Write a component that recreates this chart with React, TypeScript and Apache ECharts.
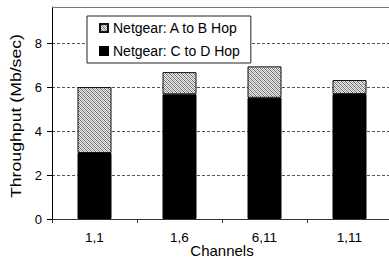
import React, { useEffect, useRef } from "react";
import * as echarts from "echarts";

const categories = ["1,1", "1,6", "6,11", "1,11"];
const cdHop = [3.0, 5.67, 5.51, 5.68];
const abHop = [3.0, 1.01, 1.43, 0.64];
const seriesNames = ["Netgear: A to B Hop", "Netgear: C to D Hop"];
const yTitle = "Throughput (Mb/sec)";
const xTitle = "Channels";

function makePattern(): HTMLCanvasElement {
  const c = document.createElement("canvas");
  c.width = 4;
  c.height = 4;
  const ctx = c.getContext("2d")!;
  ctx.fillStyle = "#ececec";
  ctx.fillRect(0, 0, 4, 4);
  ctx.fillStyle = "#666666";
  for (let i = 0; i < 4; i++) {
    ctx.fillRect(i, i, 1, 1);
  }
  ctx.fillStyle = "#aaaaaa";
  for (let i = 0; i < 4; i++) {
    ctx.fillRect((i + 2) % 4, i, 1, 1);
  }
  return c;
}

export default function App() {
  const ref = useRef<HTMLDivElement>(null);
  useEffect(() => {
    const chart = echarts.init(ref.current!, null, { renderer: "svg" });
    const font = "Liberation Sans, Arial, sans-serif";
    const pattern = makePattern();
    chart.setOption({
      animation: false,
      textStyle: { fontFamily: font },
      grid: { left: 52, right: -3, top: 7, bottom: 42, outerBoundsMode: "none", containLabel: false },
      legend: {
        data: seriesNames,
        orient: "vertical",
        left: 87,
        top: 16,
        padding: [5, 11, 5, 12],
        itemGap: 9,
        itemWidth: 8,
        itemHeight: 8,
        icon: "rect",
        backgroundColor: "#fff",
        borderColor: "#222",
        borderWidth: 1,
        textStyle: { fontFamily: font, fontSize: 14, color: "#000" },
      },
      xAxis: {
        type: "category",
        data: categories,
        name: xTitle,
        nameLocation: "middle",
        nameGap: 24,
        nameMoveOverlap: false,
        nameTextStyle: { fontFamily: font, fontSize: 15, color: "#000" },
        axisLine: { lineStyle: { color: "#333", width: 1 } },
        axisTick: { show: true, length: 4, inside: false, lineStyle: { color: "#333" } },
        axisLabel: { fontFamily: font, fontSize: 13.5, color: "#000", margin: 11 },
        splitLine: { show: false },
        splitArea: { show: false },
      },
      yAxis: {
        type: "value",
        min: 0,
        max: 9.64,
        interval: 2,
        axisLine: { show: true, lineStyle: { color: "#000", width: 1 } },
        axisTick: { show: true, length: 5, lineStyle: { color: "#000" } },
        axisLabel: {
          fontFamily: font,
          fontSize: 13,
          color: "#000",
          margin: 10,
          showMaxLabel: false,
        },
        splitLine: {
          show: true,
          lineStyle: { color: "#555", type: [3, 2], width: 1 },
        },
      },
      graphic: [
        {
          type: "line",
          shape: { x1: 52, y1: 7.5, x2: 389, y2: 7.5 },
          style: { stroke: "#777", lineWidth: 1 },
          z: 10,
        },
        {
          type: "text",
          x: 16,
          y: 116,
          rotation: Math.PI / 2,
          scaleX: 1.22,
          style: {
            text: yTitle,
            fontFamily: font,
            fontSize: 14.5,
            fill: "#000",
            align: "center",
            verticalAlign: "middle",
          },
        },
      ],
      series: [
        {
          name: seriesNames[1],
          type: "bar",
          stack: "t",
          data: cdHop,
          barWidth: 34,
          itemStyle: { color: "#000", borderColor: "#000", borderWidth: 1 },
        },
        {
          name: seriesNames[0],
          type: "bar",
          stack: "t",
          data: abHop,
          barWidth: 34,
          itemStyle: {
            color: { image: pattern, repeat: "repeat" },
            borderColor: "#111",
            borderWidth: 1,
          },
        },
      ],
    });
    return () => chart.dispose();
  }, []);
  return (
    <div
      ref={ref}
      style={{ width: 389, height: 261, position: "absolute", left: 0, top: 0, background: "#fff", overflow: "hidden" }}
    />
  );
}
